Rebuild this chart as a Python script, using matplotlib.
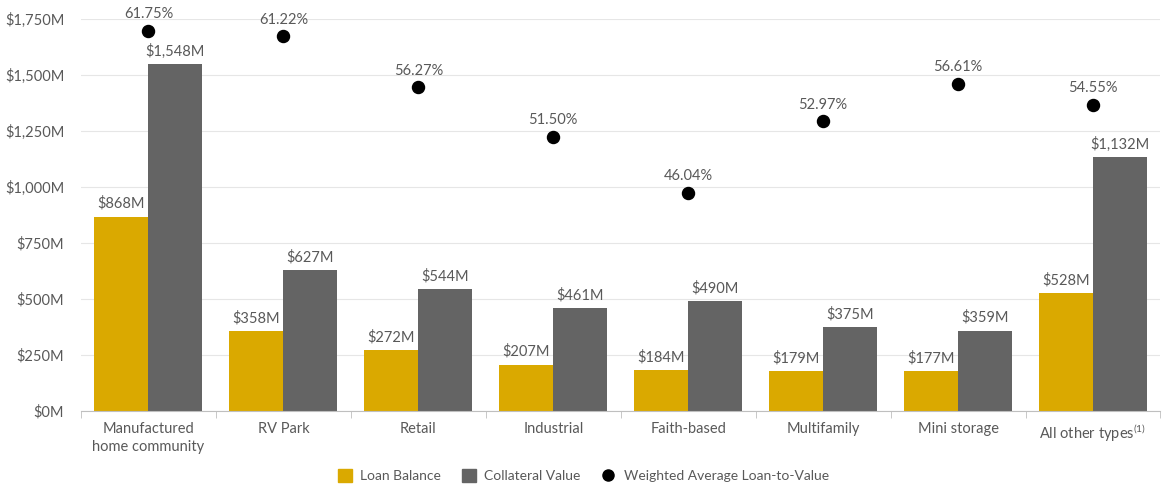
import matplotlib.pyplot as plt
import numpy as np
from matplotlib.lines import Line2D
from matplotlib.patches import Patch

plt.rcParams['font.family'] = ['Lato', 'DejaVu Sans']
plt.rcParams['mathtext.fontset'] = 'custom'
plt.rcParams['mathtext.rm'] = 'Lato'

categories = ['Manufactured\nhome community', 'RV Park', 'Retail', 'Industrial',
              'Faith-based', 'Multifamily', 'Mini storage',
              r'All other types$^{\mathrm{(1)}}$']
loan_balance = [868, 358, 272, 207, 184, 179, 177, 528]
collateral_value = [1548, 627, 544, 461, 490, 375, 359, 1132]
ltv = [61.75, 61.22, 56.27, 51.50, 46.04, 52.97, 56.61, 54.55]

gold = '#DAA900'
grey = '#646464'
text_col = '#595959'

fig = plt.figure(figsize=(11.67, 4.88), dpi=100)
ax = fig.add_axes([0.0694, 0.158, 0.925, 0.803])

x = np.arange(len(categories))
w = 0.4
ax.bar(x - w / 2, loan_balance, w, color=gold, zorder=2)
ax.bar(x + w / 2, collateral_value, w, color=grey, zorder=2)

for xi, lb, cv in zip(x, loan_balance, collateral_value):
    ax.annotate(f'${lb:,}M', (xi - w / 2, lb), xytext=(0, 4), textcoords='offset points',
                ha='center', va='bottom', fontsize=10.5, color=text_col)
    ax.annotate(f'${cv:,}M', (xi + w / 2, cv), xytext=(0, 4), textcoords='offset points',
                ha='center', va='bottom', fontsize=10.5, color=text_col)

ax.set_xlim(-0.5, len(categories) - 0.5)
ax.set_ylim(0, 1750)
ax.set_yticks(np.arange(0, 1751, 250))
ax.set_yticklabels([f'${v:,}M' for v in range(0, 1751, 250)])
ax.yaxis.grid(True, color='#e6e6e6', linewidth=0.8, zorder=0)
ax.set_axisbelow(True)

ax.set_xticks(x)
ax.set_xticklabels(categories, linespacing=1.35)
ax.set_xticks(np.arange(-0.5, len(categories)), minor=True)
ax.tick_params(axis='x', which='major', length=0, pad=8, labelsize=10.5, labelcolor=text_col)
ax.tick_params(axis='x', which='minor', length=5, color='#bfbfbf')
ax.tick_params(axis='y', length=0, pad=12, labelsize=10.5, labelcolor=text_col)
for s in ['top', 'right', 'left']:
    ax.spines[s].set_visible(False)
ax.spines['bottom'].set_color('#bfbfbf')

# weighted average LTV on a hidden secondary axis
ax2 = ax.twinx()
ax2.set_ylim(24.9, 62.9)
ax2.scatter(x, ltv, s=75, color='black', zorder=3)
for xi, v in zip(x, ltv):
    ax2.annotate(f'{v:.2f}%', (xi, v), xytext=(0, 7), textcoords='offset points',
                 ha='center', va='bottom', fontsize=10.5, color=text_col)
ax2.axis('off')

handles = [Patch(color=gold, label='Loan Balance'),
           Patch(color=grey, label='Collateral Value'),
           Line2D([], [], marker='o', color='black', linestyle='none', markersize=8,
                  label='Weighted Average Loan-to-Value')]
fig.legend(handles=handles, loc='center', bbox_to_anchor=(0.5, 0.025), ncol=3,
           frameon=False, fontsize=10, labelcolor=text_col, handlelength=1.0,
           handleheight=1.0, columnspacing=1.5, handletextpad=0.6)

fig.savefig('out.png', dpi=100)
